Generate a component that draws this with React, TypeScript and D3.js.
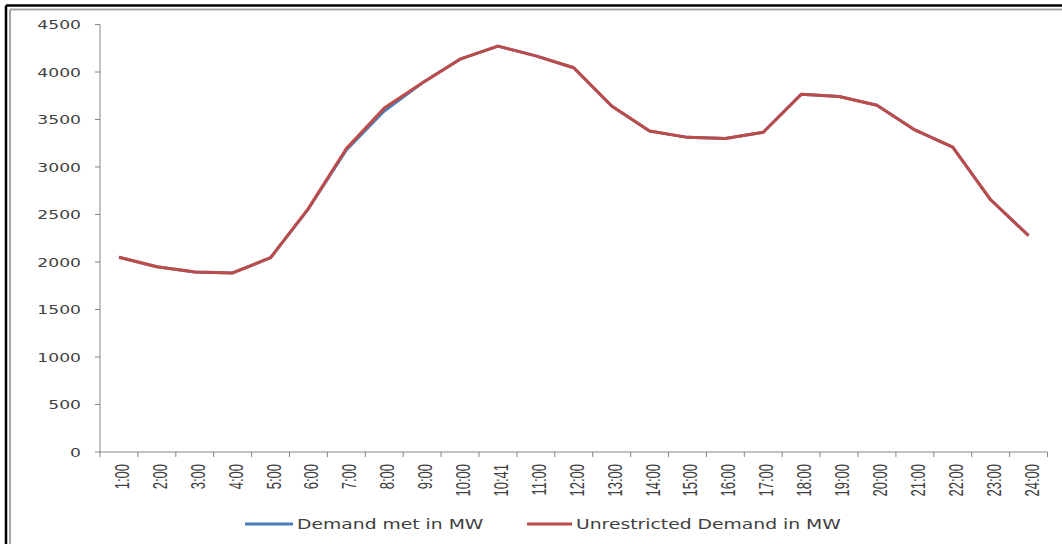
import React from 'react';
import * as d3 from 'd3';

const hours = [
    '1:00', '2:00', '3:00', '4:00', '5:00', '6:00', '7:00', '8:00', '9:00', '10:00', '10:41',
    '11:00', '12:00', '13:00', '14:00', '15:00', '16:00', '17:00', '18:00', '19:00', '20:00',
    '21:00', '22:00', '23:00', '24:00',
];

const demandMet = [
    2050, 1950, 1895, 1885, 2045, 2560, 3180, 3590, 3885, 4135, 4272,
    4170, 4045, 3642, 3380, 3312, 3300, 3366, 3765, 3742, 3650,
    3390, 3210, 2655, 2278,
];

const unrestricted = [
    2050, 1950, 1895, 1885, 2045, 2565, 3195, 3620, 3885, 4135, 4272,
    4170, 4045, 3642, 3380, 3312, 3300, 3366, 3765, 3742, 3650,
    3390, 3210, 2655, 2278,
];

const yTicks = [0, 500, 1000, 1500, 2000, 2500, 3000, 3500, 4000, 4500];

const series = [
    { name: 'Demand met in MW', values: demandMet, color: '#4a7ebb' },
    { name: 'Unrestricted Demand in MW', values: unrestricted, color: '#be4b48' },
];

const W = 1062;
const H = 544;
const STRETCH = 1.32; // the source picture is widened horizontally

export default function App() {
    const x = d3.scaleBand<string>().domain(hours).range([100, 1047.5]).padding(0);
    const y = d3.scaleLinear().domain([0, 4500]).range([452, 24.5]);

    const line = d3
        .line<number>()
        .x((_, i) => x(hours[i])! + x.bandwidth() / 2)
        .y((d) => y(d));

    const boundaries = hours.map((h) => x(h)!).concat([x.range()[1]]);

    return (
        <div style={{ position: 'absolute', left: 0, top: 0 }}>
            <svg width={W} height={H} style={{ display: 'block', background: '#fff' }}>
                {/* frame */}
                <line x1={6} y1={5.5} x2={W} y2={5.5} stroke="#000" strokeWidth={2.5} />
                <line x1={6} y1={5.5} x2={6} y2={H} stroke="#000" strokeWidth={2.5} />
                <line x1={10} y1={9.5} x2={W} y2={9.5} stroke="#a6a6a6" strokeWidth={2} />
                <line x1={10} y1={9.5} x2={10} y2={H} stroke="#a6a6a6" strokeWidth={2} />

                {/* y axis */}
                <line x1={100} y1={y(4500)} x2={100} y2={y(0)} stroke="#868686" strokeWidth={1} />
                {yTicks.map((t) => (
                    <g key={t}>
                        <line x1={95} x2={100} y1={y(t)} y2={y(t)} stroke="#868686" />
                        <text
                            transform={`translate(81,${y(t) + 4.5}) scale(${STRETCH},1)`}
                            textAnchor="end"
                            fontFamily="DejaVu Sans"
                            fontSize={13}
                            fill="#404040"
                        >
                            {t}
                        </text>
                    </g>
                ))}

                {/* x axis */}
                <line x1={100} x2={x.range()[1]} y1={y(0)} y2={y(0)} stroke="#868686" />
                {boundaries.map((b, i) => (
                    <line key={i} x1={b} x2={b} y1={y(0)} y2={y(0) + 5} stroke="#868686" />
                ))}
                {hours.map((h) => (
                    <text
                        key={h}
                        transform={`translate(${x(h)! + x.bandwidth() / 2 + 10},464) scale(1.5,1) rotate(-90)`}
                        textAnchor="end"
                        fontFamily="Liberation Sans"
                        fontSize={13}
                        fill="#404040"
                    >
                        {h}
                    </text>
                ))}

                {/* lines */}
                {series.map((s) => (
                    <path
                        key={s.name}
                        d={line(s.values)!}
                        fill="none"
                        stroke={s.color}
                        strokeWidth={3}
                        strokeLinejoin="round"
                    />
                ))}

                {/* legend */}
                <line x1={245} x2={293} y1={524} y2={524} stroke={series[0].color} strokeWidth={3} />
                <text
                    transform={`translate(297,529) scale(1.34,1)`}
                    fontFamily="DejaVu Sans"
                    fontSize={14}
                    fill="#404040"
                >
                    {series[0].name}
                </text>
                <line x1={527} x2={572} y1={524} y2={524} stroke={series[1].color} strokeWidth={3} />
                <text
                    transform={`translate(576,529) scale(1.34,1)`}
                    fontFamily="DejaVu Sans"
                    fontSize={14}
                    fill="#404040"
                >
                    {series[1].name}
                </text>
            </svg>
        </div>
    );
}
